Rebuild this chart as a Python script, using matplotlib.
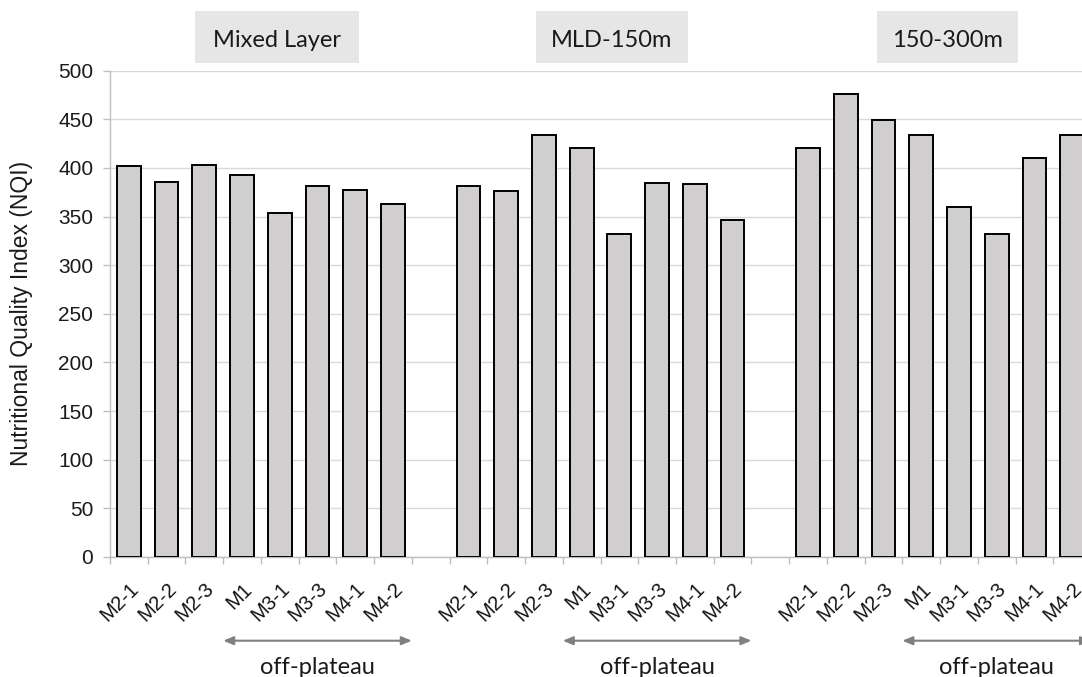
import matplotlib
matplotlib.use("Agg")
import matplotlib.pyplot as plt
from matplotlib.patches import Rectangle
import numpy as np

# ---- data ----
stations = ["M2-1", "M2-2", "M2-3", "M1", "M3-1", "M3-3", "M4-1", "M4-2"]
layers = ["Mixed Layer", "MLD-150m", "150-300m"]
nqi_mixed = [402, 386, 403, 393, 354, 381, 377, 363]
nqi_mld150 = [381, 376, 434, 421, 332, 385, 383, 347]
nqi_150_300 = [421, 476, 449, 434, 360, 332, 410, 434]
yticks = [0, 50, 100, 150, 200, 250, 300, 350, 400, 450, 500]
off_plateau_label = "off-plateau"
ylabel = "Nutritional Quality Index (NQI)"

series = [nqi_mixed, nqi_mld150, nqi_150_300]

W, H = 1082, 677
fig = plt.figure(figsize=(W / 100, H / 100), dpi=100)
fig.patch.set_facecolor("white")

# axes placement in pixels (right edge intentionally past the figure edge)
left_px, right_px, top_px, bottom_px = 110, 1091, 70.7, 557
ax = fig.add_axes([left_px / W, 1 - bottom_px / H,
                   (right_px - left_px) / W, (bottom_px - top_px) / H])

n = len(stations)
gap = 1
positions, labels, values = [], [], []
for g, vals in enumerate(series):
    start = g * (n + gap)
    for i, v in enumerate(vals):
        positions.append(start + i)
        labels.append(stations[i])
        values.append(v)

ax.bar(positions, values, width=0.63, color="#d0cece", edgecolor="black",
       linewidth=1.4, zorder=3)

total_slots = 3 * n + 2 * gap
ax.set_xlim(-0.5, total_slots - 0.5)
ax.set_ylim(0, 500)
ax.set_yticks(yticks)
ax.yaxis.grid(True, color="#d9d9d9", linewidth=1.0, zorder=0)
ax.set_axisbelow(True)

# category labels at centers, tick marks at slot boundaries
ax.set_xticks(positions)
ax.set_xticklabels(labels, rotation=45, rotation_mode="anchor",
                   ha="right", va="top",
                   fontsize=14.5, family="Liberation Sans", color="#111111")
ax.set_xticks(np.arange(-0.5, total_slots + 0.5, 1), minor=True)
ax.tick_params(axis="x", which="major", length=0, pad=16)
ax.tick_params(axis="x", which="minor", length=5, color="#bfbfbf", width=1)
ax.tick_params(axis="y", length=5, color="#bfbfbf", width=1, pad=7,
               labelsize=15, labelcolor="#1a1a1a")
for t in ax.get_yticklabels():
    t.set_family("Liberation Sans")

for s in ["top", "right"]:
    ax.spines[s].set_visible(False)
for s in ["left", "bottom"]:
    ax.spines[s].set_color("#bfbfbf")
    ax.spines[s].set_linewidth(1.0)

ax.set_ylabel(ylabel, fontsize=16.5, family="Liberation Sans",
              color="#1a1a1a", va="center")
ax.yaxis.set_label_coords((22 - left_px) / (right_px - left_px), 0.5)

# off-plateau arrows (stations M1..M4-2 of each group)
arrow_y = (bottom_px - 640.7) / (bottom_px - top_px)
text_y = (bottom_px - 668) / (bottom_px - top_px)
for g in range(3):
    start = g * (n + gap)
    x0 = start + 3 - 0.5
    x1 = start + n - 0.5
    ax.annotate("", xy=(x1, arrow_y), xytext=(x0, arrow_y),
                xycoords=("data", "axes fraction"),
                textcoords=("data", "axes fraction"),
                arrowprops=dict(arrowstyle="<|-|>,head_length=0.6,head_width=0.25",
                                color="#808080", lw=1.5, shrinkA=0, shrinkB=0),
                annotation_clip=False)
    ax.text((x0 + x1) / 2, text_y, off_plateau_label,
            transform=ax.get_xaxis_transform(), ha="center", va="center",
            fontsize=17, family="Lato", color="#1a1a1a", clip_on=False)

# layer header boxes
boxes_px = [(195, 359), (535.7, 687.7), (876.7, 1018.3)]
box_top, box_bot = 11, 63
for name, (bx0, bx1) in zip(layers, boxes_px):
    fig.patches.append(Rectangle((bx0 / W, 1 - box_bot / H),
                                 (bx1 - bx0) / W, (box_bot - box_top) / H,
                                 transform=fig.transFigure,
                                 facecolor="#e7e6e6", edgecolor="none"))
    fig.text((bx0 + bx1) / 2 / W, 1 - 47.3 / H, name, ha="center",
             va="baseline", fontsize=17, family="Lato", color="#1a1a1a")

fig.savefig("out.png", dpi=100)
